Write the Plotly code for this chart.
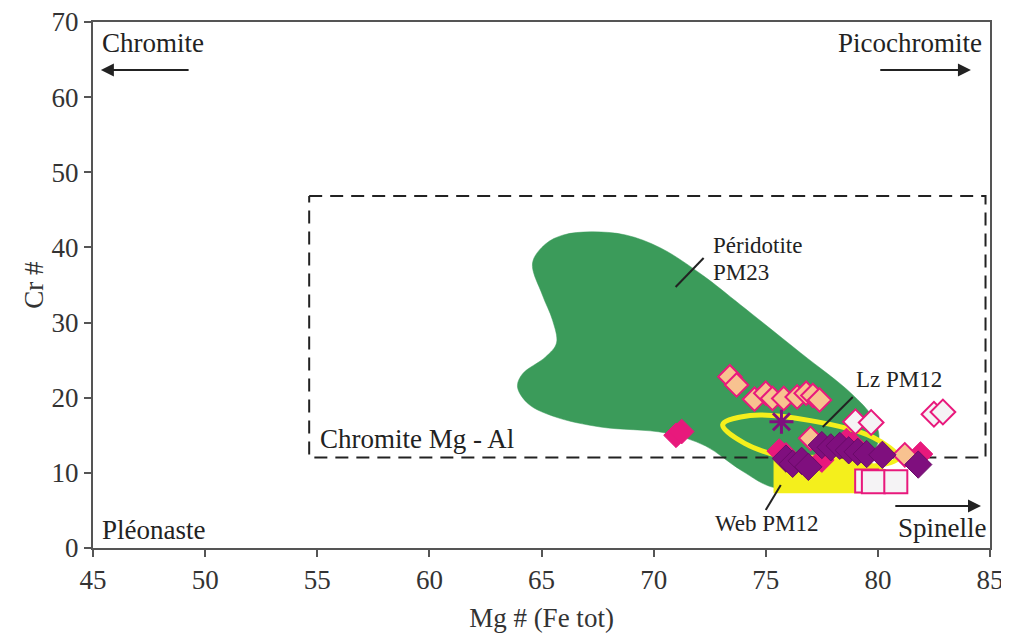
import plotly.graph_objects as go

# ---------------- data ----------------
# Field of the peridotite PM23 spinels (outline)
peri_x = [64.60, 65.18, 65.98, 67.19, 68.75, 70.31, 72.17, 73.88, 76.56, 78.79, 79.78, 80.04,
          79.33, 77.46, 75.45, 73.88, 72.32, 70.54, 67.63, 65.63, 64.42, 63.93, 64.15, 65.18,
          65.67, 65.49, 65.04, 64.60]
peri_y = [37.93, 40.46, 41.66, 42.07, 41.66, 39.93, 36.33, 32.34, 25.95, 20.63, 17.30, 14.37,
          11.45, 8.78, 7.99, 10.38, 13.57, 15.30, 16.10, 17.43, 19.16, 21.43, 23.16, 25.42,
          27.28, 30.34, 33.67, 37.93]

# Websterite PM12 field
web_x = [75.36, 75.36, 79.78, 80.36, 79.24, 77.46, 75.36]
web_y = [12.24, 7.32, 7.32, 10.38, 11.98, 12.38, 12.24]

# Lherzolite PM12 field (outline)
lz_x = [80.9, 79.5, 76.66, 74.06, 73.08, 74.30, 77.00, 79.80, 80.9]
lz_y = [12.0, 10.8, 11.5, 13.92, 16.41, 17.62, 16.95, 14.7, 12.0]

# "Chromite Mg - Al" box
box_x = [54.64, 84.80, 84.80, 54.64, 54.64]
box_y = [46.85, 46.85, 12.05, 12.05, 46.85]

# Samples
peach_x = [73.4, 73.7, 74.5, 75.0, 75.3, 75.8, 76.4, 76.8, 77.1, 77.4, 77.0, 81.2]
peach_y = [22.8, 21.7, 19.8, 20.6, 19.9, 19.9, 20.1, 20.6, 20.3, 19.7, 14.6, 12.4]

open_x = [79.0, 79.7, 82.5, 82.9]
open_y = [16.8, 16.7, 17.8, 18.1]

square_x = [79.5, 79.8, 80.8]
square_y = [8.9, 8.8, 8.8]

pink_x = [71.0, 71.25, 75.6, 75.9, 77.5, 78.6, 78.9, 81.9]
pink_y = [15.0, 15.5, 12.9, 12.4, 11.7, 14.3, 13.8, 12.5]

purple_x = [75.9, 76.2, 76.6, 76.9, 77.5, 77.9, 78.3, 78.7, 79.1, 79.5, 80.2, 81.8]
purple_y = [11.9, 11.2, 11.6, 10.8, 13.7, 13.4, 13.6, 13.0, 12.8, 12.5, 12.4, 11.1]

star_x = [75.7]
star_y = [16.8]

# Leader lines for field labels
peri_lead_x = [70.98, 72.23]
peri_lead_y = [34.73, 38.59]
lz_lead_x = [77.54, 78.88]
lz_lead_y = [16.1, 20.1]
web_lead_x = [75.0, 75.67]
web_lead_y = [5.06, 8.38]

x_ticks = [45, 50, 55, 60, 65, 70, 75, 80, 85]
y_ticks = [0, 10, 20, 30, 40, 50, 60, 70]

# ---------------- styles ----------------
FONT = "Liberation Serif"
GREEN = "#3b9b5a"
YELLOW = "#f4ef1c"
PINK = "#e8197c"
PEACH = "#f8c290"
PURPLE = "#7f0f7e"
OPENFILL = "#f5f3f5"
INK = "#222222"

fig = go.Figure()

fig.add_trace(go.Scatter(x=peri_x, y=peri_y, mode="lines", fill="toself",
                         fillcolor=GREEN, line=dict(color=GREEN, width=0.5, shape="spline", smoothing=1),
                         hoverinfo="skip", showlegend=False))
fig.add_trace(go.Scatter(x=web_x, y=web_y, mode="lines", fill="toself",
                         fillcolor=YELLOW, line=dict(color=YELLOW, width=0.5),
                         hoverinfo="skip", showlegend=False))
fig.add_trace(go.Scatter(x=lz_x, y=lz_y, mode="lines",
                         line=dict(color=YELLOW, width=5, shape="spline", smoothing=1),
                         hoverinfo="skip", showlegend=False))
fig.add_trace(go.Scatter(x=box_x, y=box_y, mode="lines",
                         line=dict(color=INK, width=2, dash="13px,8px"),
                         hoverinfo="skip", showlegend=False))

for lx, ly in [(peri_lead_x, peri_lead_y), (lz_lead_x, lz_lead_y), (web_lead_x, web_lead_y)]:
    fig.add_trace(go.Scatter(x=lx, y=ly, mode="lines", line=dict(color=INK, width=2),
                             hoverinfo="skip", showlegend=False))

fig.add_trace(go.Scatter(x=pink_x, y=pink_y, mode="markers",
                         marker=dict(symbol="diamond", size=19, color=PINK, line=dict(color=PINK, width=1)),
                         showlegend=False))
fig.add_trace(go.Scatter(x=peach_x, y=peach_y, mode="markers",
                         marker=dict(symbol="diamond", size=18, color=PEACH, line=dict(color=PINK, width=2)),
                         showlegend=False))
fig.add_trace(go.Scatter(x=open_x, y=open_y, mode="markers",
                         marker=dict(symbol="diamond", size=19, color=OPENFILL, line=dict(color=PINK, width=2)),
                         showlegend=False))
fig.add_trace(go.Scatter(x=purple_x, y=purple_y, mode="markers",
                         marker=dict(symbol="diamond", size=21, color=PURPLE, line=dict(color="#6a0a69", width=1)),
                         showlegend=False))
fig.add_trace(go.Scatter(x=square_x, y=square_y, mode="markers",
                         marker=dict(symbol="square", size=23, color=OPENFILL, line=dict(color=PINK, width=2)),
                         showlegend=False))
fig.add_trace(go.Scatter(x=star_x, y=star_y, mode="markers",
                         marker=dict(symbol="asterisk-open", size=20, color=PURPLE,
                                     line=dict(color=PURPLE, width=3)),
                         showlegend=False))

# ---------------- text & arrows ----------------
big = dict(family=FONT, size=27, color=INK)
small = dict(family=FONT, size=23, color=INK)
ann = [
    dict(x=45.31, y=67.2, text="Chromite", xanchor="left", yanchor="middle", font=big),
    dict(x=84.75, y=67.2, text="Picochromite", xanchor="right", yanchor="middle", font=big),
    dict(x=45.31, y=2.4, text="Pléonaste", xanchor="left", yanchor="middle", font=big),
    dict(x=84.95, y=2.6, text="Spinelle", xanchor="right", yanchor="middle", font=big),
    dict(x=55.04, y=14.5, text="Chromite Mg - Al", xanchor="left", yanchor="middle", font=big),
    dict(x=72.55, y=40.3, text="Péridotite", xanchor="left", yanchor="middle", font=small),
    dict(x=72.55, y=36.7, text="PM23", xanchor="left", yanchor="middle", font=small),
    dict(x=78.95, y=22.4, text="Lz PM12", xanchor="left", yanchor="middle", font=small),
    dict(x=75.04, y=3.3, text="Web PM12", xanchor="center", yanchor="middle", font=small),
]
for a in ann:
    a.update(xref="x", yref="y", showarrow=False)

arrows = [
    ((49.33, 63.6), (45.35, 63.6)),
    ((80.04, 63.6), (84.15, 63.6)),
    ((80.71, 5.6), (84.60, 5.6)),
]
for (tx, ty), (hx, hy) in arrows:
    ann.append(dict(x=hx, y=hy, ax=tx, ay=ty, xref="x", yref="y", axref="x", ayref="y",
                    text="", showarrow=True, arrowhead=2, arrowsize=1.3, arrowwidth=2,
                    arrowcolor=INK))

# the page places the figure 8 px in from the top-left corner
fig.update_layout(
    width=1001, height=627,
    margin=dict(l=85, r=19, t=14, b=87),
    paper_bgcolor="white", plot_bgcolor="white",
    annotations=ann,
    font=dict(family=FONT, color="#333333"),
    xaxis=dict(range=[45, 85], tickvals=x_ticks, ticks="outside", ticklen=7, tickwidth=2,
               tickcolor="#555555", showline=True, linecolor="#555555", linewidth=2, mirror=True,
               showgrid=False, zeroline=False, automargin=False, ticklabeloverflow="allow",
               tickfont=dict(family=FONT, size=27, color="#333333"),
               title=dict(text="Mg # (Fe tot)", font=dict(family=FONT, size=27, color="#333333"),
                          standoff=14)),
    yaxis=dict(range=[0, 70], tickvals=y_ticks, ticks="outside", ticklen=7, tickwidth=2,
               tickcolor="#555555", showline=True, linecolor="#555555", linewidth=2, mirror=True,
               showgrid=False, zeroline=False, automargin=False, ticklabeloverflow="allow",
               tickfont=dict(family=FONT, size=27, color="#333333"),
               title=dict(text="Cr #", font=dict(family=FONT, size=27, color="#333333"),
                          standoff=0)),
)

fig.write_html("out.html")
